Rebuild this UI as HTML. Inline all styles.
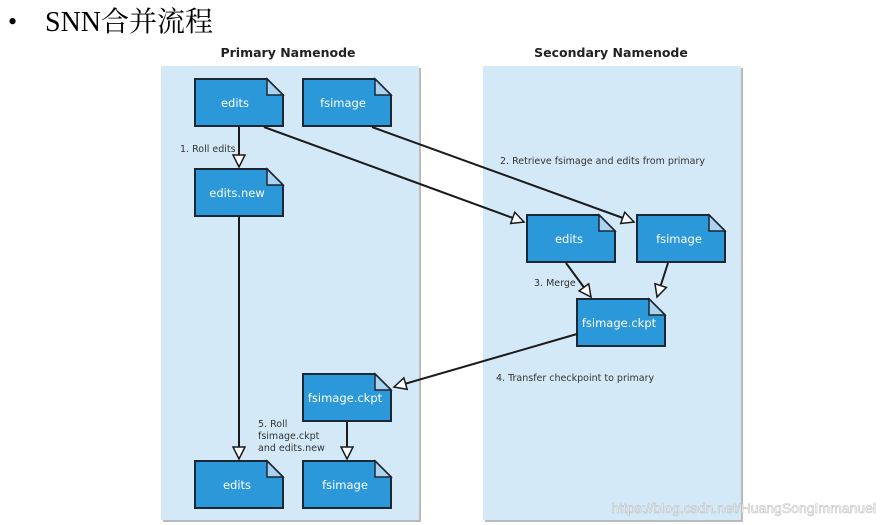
<!DOCTYPE html>
<html><head><meta charset="utf-8"><style>
html,body{margin:0;padding:0;background:#fff;width:887px;height:525px;overflow:hidden}
svg{display:block}
</style></head><body>
<svg width="887" height="525" xmlns="http://www.w3.org/2000/svg">
<defs>
<marker id="a" markerWidth="16" markerHeight="16" refX="13" refY="7" orient="auto" markerUnits="userSpaceOnUse">
<path d="M1,1 L13,7 L1,13 Z" fill="#fff" stroke="#1a1a1a" stroke-width="1.5"/>
</marker>
<g id="doc">
<path d="M0,0 H72 L88,16 V47 H0 Z" fill="#2b98d9" stroke="#1c2733" stroke-width="2"/>
<path d="M72,0 L88,16 H72 Z" fill="#a9d3ef" stroke="#1c2733" stroke-width="1.5"/>
</g>
</defs>
<text x="8" y="30" font-family="Liberation Serif, serif" font-size="26">•</text>
<text x="45" y="31" font-family="'Liberation Serif','Noto Serif CJK SC',serif" font-size="28">SNN合并流程</text>
<g font-family="'DejaVu Sans',sans-serif" font-size="12.5" font-weight="bold" fill="#222">
<text x="288" y="57" text-anchor="middle">Primary Namenode</text>
<text x="611" y="57" text-anchor="middle">Secondary Namenode</text>
</g>
<rect x="163" y="68" width="258" height="454" fill="#bbb"/>
<rect x="485" y="68" width="258" height="454" fill="#bbb"/>
<rect x="161" y="66" width="258" height="454" fill="#d4e9f7"/>
<rect x="483" y="66" width="258" height="454" fill="#d4e9f7"/>
<use href="#doc" x="195" y="79"/><use href="#doc" x="303" y="79"/>
<use href="#doc" x="195" y="169"/>
<use href="#doc" x="527" y="215"/><use href="#doc" x="637" y="215"/>
<use href="#doc" x="577" y="299"/>
<use href="#doc" x="303" y="374"/>
<use href="#doc" x="195" y="461"/><use href="#doc" x="303" y="461"/>
<g stroke="#1a1a1a" stroke-width="2" fill="none" marker-end="url(#a)">
<line x1="239" y1="127" x2="239" y2="167"/>
<line x1="264" y1="127" x2="524" y2="222"/>
<line x1="372" y1="127" x2="634" y2="222"/>
<line x1="566" y1="263" x2="591" y2="297"/>
<line x1="668" y1="263" x2="657" y2="297"/>
<line x1="577" y1="334" x2="394" y2="387"/>
<line x1="239" y1="217" x2="239" y2="459"/>
<line x1="347" y1="422" x2="347" y2="459"/>
</g>
<g font-family="'DejaVu Sans',sans-serif" font-size="11.5" fill="#fff" text-anchor="middle">
<text x="235" y="107">edits</text><text x="343" y="107">fsimage</text>
<text x="237" y="197">edits.new</text>
<text x="569" y="243">edits</text><text x="679" y="243">fsimage</text>
<text x="619" y="327">fsimage.ckpt</text>
<text x="345" y="402">fsimage.ckpt</text>
<text x="237" y="489">edits</text><text x="345" y="489">fsimage</text>
</g>
<g font-family="'DejaVu Sans',sans-serif" font-size="9.5" fill="#333">
<text x="180" y="152">1. Roll edits</text>
<text x="500" y="164">2. Retrieve fsimage and edits from primary</text>
<text x="534" y="286">3. Merge</text>
<text x="496" y="381">4. Transfer checkpoint to primary</text>
<text x="258" y="427">5. Roll</text>
<text x="258" y="439">fsimage.ckpt</text>
<text x="258" y="451">and edits.new</text>
</g>
<text x="876" y="513" text-anchor="end" font-family="'Liberation Sans',sans-serif" font-size="14" fill="#fff" stroke="#bbb" stroke-width="0.6" opacity="0.9">https://blog.csdn.net/HuangSongImmanuel</text>
</svg>
</body></html>
